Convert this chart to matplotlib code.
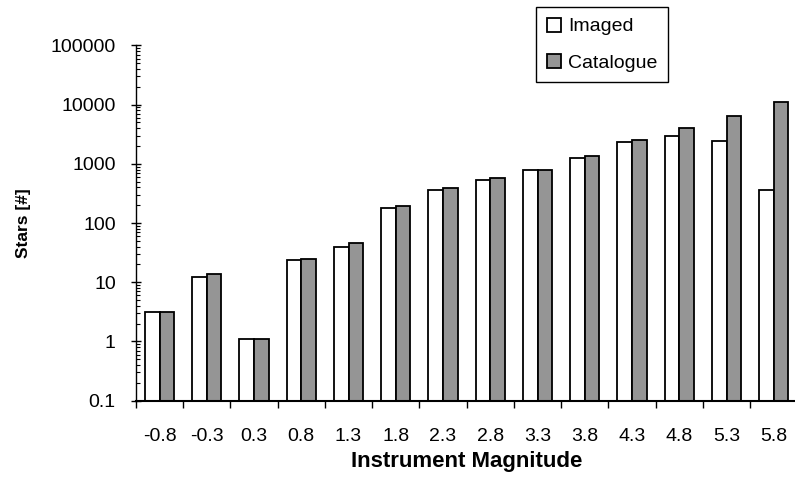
import numpy as np
import matplotlib.pyplot as plt
from matplotlib.ticker import LogLocator, NullFormatter, FixedLocator

plt.rcParams['font.family'] = ['Liberation Sans', 'DejaVu Sans']

magnitudes = ['-0.8', '-0.3', '0.3', '0.8', '1.3', '1.8', '2.3', '2.8',
              '3.3', '3.8', '4.3', '4.8', '5.3', '5.8']
imaged = [3, 12, 1, 24, 40, 178, 360, 540, 780, 1250, 2350, 2950, 2400, 360]
catalogue = [3, 13.5, 1, 25, 45, 193, 385, 575, 780, 1350, 2500, 4000, 6500, 10900]

fig = plt.figure(figsize=(7.95, 4.88), dpi=100)
ax = fig.add_axes([0.171, 0.179, 0.832, 0.728])

x = np.arange(len(magnitudes))
w = 0.31
ax.bar(x - w / 2, imaged, w, bottom=0.1, color='white', edgecolor='black',
       linewidth=1.3, label='Imaged')
ax.bar(x + w / 2, catalogue, w, bottom=0.1, color='#959595', edgecolor='black',
       linewidth=1.3, label='Catalogue')

ax.set_yscale('log')
ax.set_ylim(0.1, 100000)
ax.set_xlim(-0.5, len(magnitudes) - 0.5)

yt = [0.1, 1, 10, 100, 1000, 10000, 100000]
ax.set_yticks(yt)
ax.set_yticklabels(['0.1', '1', '10', '100', '1000', '10000', '100000'])
ax.yaxis.set_minor_locator(LogLocator(base=10, subs=np.arange(2, 10)))
ax.yaxis.set_minor_formatter(NullFormatter())
ax.tick_params(axis='y', which='major', direction='inout', length=7, width=1, pad=11)
ax.tick_params(axis='y', which='minor', direction='in', length=3, width=0.8)

ax.set_xticks(x)
ax.set_xticklabels(magnitudes)
ax.xaxis.set_minor_locator(FixedLocator(np.arange(len(magnitudes) + 1) - 0.5))
ax.tick_params(axis='x', which='major', length=0, pad=20)
ax.tick_params(axis='x', which='minor', direction='out', length=5, width=1)
ax.tick_params(labelsize=14)

for s in ['top', 'right']:
    ax.spines[s].set_visible(False)
ax.spines['left'].set_linewidth(1)
ax.spines['bottom'].set_linewidth(1.5)

ax.set_ylabel('Stars [#]', fontsize=12.5, fontweight='bold')
ax.yaxis.set_label_coords(-0.158, 0.5)
ax.set_xlabel('Instrument Magnitude', fontsize=16, fontweight='bold')
ax.xaxis.set_label_coords(0.5, -0.143)

leg = ax.legend(loc='upper left', bbox_to_anchor=(0.674, 0.986),
                bbox_transform=fig.transFigure, borderaxespad=0,
                fancybox=False, edgecolor='black', framealpha=1,
                fontsize=14, handlelength=0.75, handleheight=0.75,
                handletextpad=0.35, labelspacing=0.95, borderpad=0.55)
leg.get_frame().set_linewidth(1)

fig.savefig('out.png', dpi=100)
